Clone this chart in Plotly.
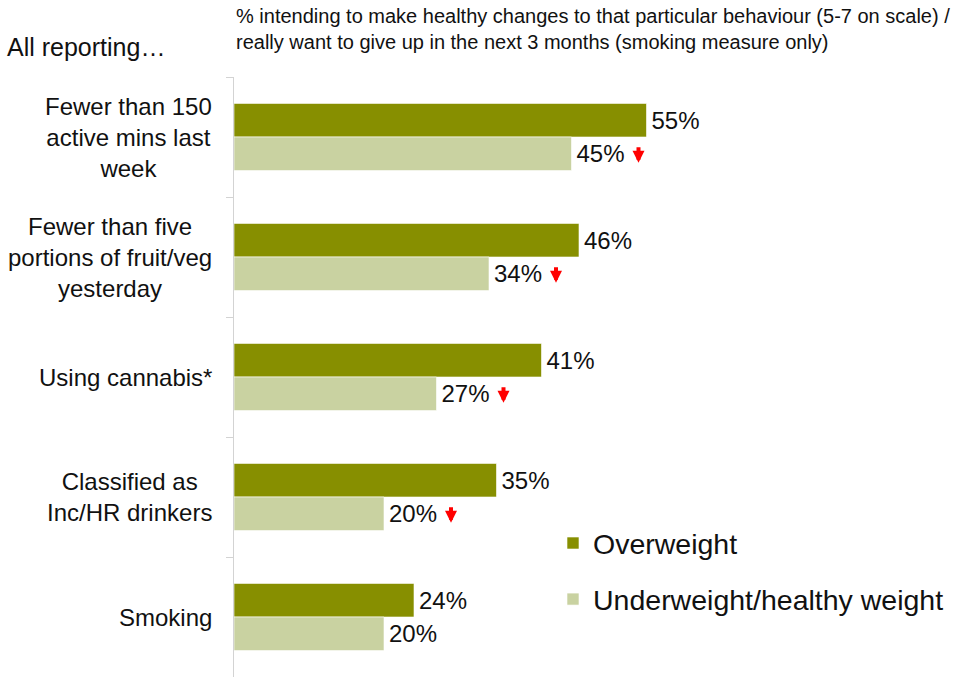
import plotly.graph_objects as go

# Behaviours (top to bottom) and share intending to change, by weight group
categories = [
    "Fewer than 150<br>active mins last<br>week",
    "Fewer than five<br>portions of fruit/veg<br>yesterday",
    "Using cannabis*",
    "Classified as<br>Inc/HR drinkers",
    "Smoking",
]
overweight = [55, 46, 41, 35, 24]
healthy_weight = [45, 34, 27, 20, 20]
# Significantly lower than the overweight group
sig_lower = [True, True, True, True, False]

series_names = ["Overweight", "Underweight/healthy weight"]
colors = ["#878F00", "#C9D2A1"]

title_text = ("% intending to make healthy changes to that particular behaviour (5-7 on scale) /<br>"
              "really want to give up in the next 3 months (smoking measure only)")
side_title = "All reporting…"

FONT = "Arial, 'Liberation Sans', sans-serif"
PX_PER_UNIT = 7.5
PLOT_L, PLOT_R, PLOT_T, PLOT_B = 234, 4, 77, 3
W, H = 965, 680
plot_w = W - PLOT_L - PLOT_R
plot_h = H - PLOT_T - PLOT_B
x_max = plot_w / PX_PER_UNIT

fig = go.Figure()
for name, vals, col, grp in zip(series_names, [overweight, healthy_weight], colors, ["a", "b"]):
    fig.add_trace(go.Bar(
        y=categories, x=vals, orientation="h", name=name,
        marker=dict(color=col, line=dict(color="white", width=0.6)),
        text=[f"\u200a{v}%" for v in vals], textposition="outside",
        textfont=dict(family=FONT, size=24, color="#111111"),
        constraintext="none", cliponaxis=False,
        legendgroup=grp,
    ))

# Category labels, centred text block to the left of the axis
for cat in categories:
    fig.add_annotation(
        x=0, xref="paper", y=cat, yref="y", xanchor="right", yanchor="middle",
        xshift=-20, text=cat, align="center", showarrow=False,
        font=dict(family=FONT, size=24, color="#111111"),
    )

# Red down-arrows beside significantly lower values
bar_offset_px = 0.14 * 120
for cat, v, s in zip(categories, healthy_weight, sig_lower):
    if s:
        fig.add_annotation(
            x=v, xref="x", y=cat, yref="y", xshift=67, yshift=-(bar_offset_px + 9),
            text="", showarrow=True, ax=0, ay=-17, axref="pixel", ayref="pixel",
            arrowhead=2, arrowsize=0.6, arrowwidth=4, arrowcolor="#FF0000",
        )

# Header texts positioned in pixels above the plot area
fig.add_annotation(
    xref="paper", yref="paper", x=(234 - PLOT_L) / plot_w, y=1 + (PLOT_T - 3) / plot_h,
    text=title_text, showarrow=False, xanchor="left", yanchor="top", align="left",
    font=dict(family=FONT, size=20, color="#111111"),
)
fig.add_annotation(
    xref="paper", yref="paper", x=(5 - PLOT_L) / plot_w, y=1 + (PLOT_T - 47) / plot_h,
    text=side_title, showarrow=False, xanchor="left", yanchor="middle",
    font=dict(family=FONT, size=25, color="#111111"),
)

fig.update_layout(
    width=W, height=H, barmode="group", bargap=0.44, bargroupgap=0,
    margin=dict(l=PLOT_L, r=PLOT_R, t=PLOT_T, b=PLOT_B, pad=0),
    paper_bgcolor="white", plot_bgcolor="white",
    font=dict(family=FONT, color="#111111"),
    xaxis=dict(range=[0, x_max], visible=False, fixedrange=True),
    yaxis=dict(autorange="reversed", showticklabels=False, showgrid=False,
               showline=True, linecolor="#D3D3D3", linewidth=1,
               ticks="outside", tickson="boundaries", ticklen=7,
               tickcolor="#D3D3D3", tickwidth=1, fixedrange=True),
    legend=dict(x=(553 - PLOT_L) / plot_w, xanchor="left",
                y=1 - (518 - PLOT_T) / plot_h, yanchor="top",
                font=dict(family=FONT, size=28.5, color="#111111"),
                traceorder="grouped", tracegroupgap=16, bgcolor="rgba(0,0,0,0)"),
    showlegend=True,
)

fig.write_html("out.html")
